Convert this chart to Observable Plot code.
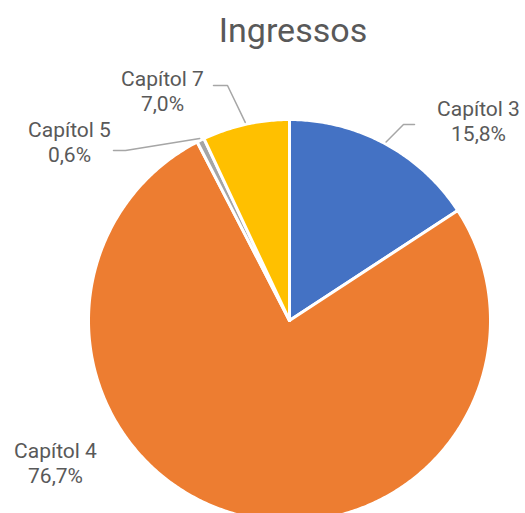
<!DOCTYPE html>
<html><head><meta charset="utf-8">
<script src="https://cdn.jsdelivr.net/npm/d3@7"></script>
<script src="https://cdn.jsdelivr.net/npm/@observablehq/plot@0.6"></script>
<style>
body{margin:0;background:#fff;font-family:Roboto,"Noto Sans",sans-serif;}
#title{width:525px;height:60px;box-sizing:border-box;padding:13px 0 0 61px;text-align:center;font-size:34px;line-height:1;color:#595959;}
</style></head>
<body>
<div id="title">Ingressos</div>
<div id="chart"></div>
<script>
const categories = ["Capítol 3", "Capítol 4", "Capítol 5", "Capítol 7"];
const values = [15.8, 76.7, 0.6, 7.0];
const valueLabels = ["15,8%", "76,7%", "0,6%", "7,0%"];
const colors = ["#4472C4", "#ED7D31", "#A5A5A5", "#FFC000"];

// layout (pixels)
const top0 = 60, W = 525, H = 513 - top0;
const cx = 289, cy = 320, R = 201;
const labelLayout = [
  {lx: 478, ly: 120, elbow: [403, 124], end: [414, 124]},
  {lx: 55, ly: 462, elbow: null, end: null},
  {lx: 69, ly: 141, elbow: [125, 150], end: [113, 150]},
  {lx: 162, ly: 90, elbow: [227, 85], end: [213, 85]}
];

const pie = d3.pie().sort(null).value(d => d.value)(categories.map((c, i) => ({cat: c, value: values[i], i})));
const pt = (a, r) => [cx + r * Math.sin(a), cy - r * Math.cos(a)];

const slicePts = [];
pie.forEach(p => {
  const n = Math.max(4, Math.ceil((p.endAngle - p.startAngle) / 0.01));
  slicePts.push({cat: p.data.cat, x: cx, y: cy});
  for (let k = 0; k <= n; k++) {
    const a = p.startAngle + (p.endAngle - p.startAngle) * k / n;
    const [x, y] = pt(a, R);
    slicePts.push({cat: p.data.cat, x, y});
  }
  slicePts.push({cat: p.data.cat, x: cx, y: cy});
});

const leaders = [];
pie.forEach((p, i) => {
  const L = labelLayout[i];
  if (!L.elbow) return;
  const mid = (p.startAngle + p.endAngle) / 2;
  const [x0, y0] = pt(mid, R + 2);
  leaders.push({k: i, x: x0, y: y0}, {k: i, x: L.elbow[0], y: L.elbow[1]}, {k: i, x: L.end[0], y: L.end[1]});
});

const labels = categories.map((c, i) => ({text: c + "\n" + valueLabels[i], x: labelLayout[i].lx, y: labelLayout[i].ly}));

const chart = Plot.plot({
  width: W, height: H, margin: 0,
  x: {domain: [0, W], range: [0, W], axis: null},
  y: {domain: [top0, 513], range: [0, H], axis: null},
  color: {domain: categories, range: colors},
  style: {fontFamily: "Roboto, 'Noto Sans', sans-serif", background: "#fff"},
  marks: [
    Plot.line(slicePts, {x: "x", y: "y", z: "cat", fill: "cat", stroke: "white", strokeWidth: 3, strokeLinejoin: "round", curve: "linear"}),
    Plot.line(leaders, {x: "x", y: "y", z: "k", stroke: "#A6A6A6", strokeWidth: 1.5}),
    Plot.text(labels, {x: "x", y: "y", text: "text", fontSize: 21, fill: "#595959", lineHeight: 1.2, textAnchor: "middle"})
  ]
});
document.getElementById("chart").appendChild(chart);
</script>
</body></html>
